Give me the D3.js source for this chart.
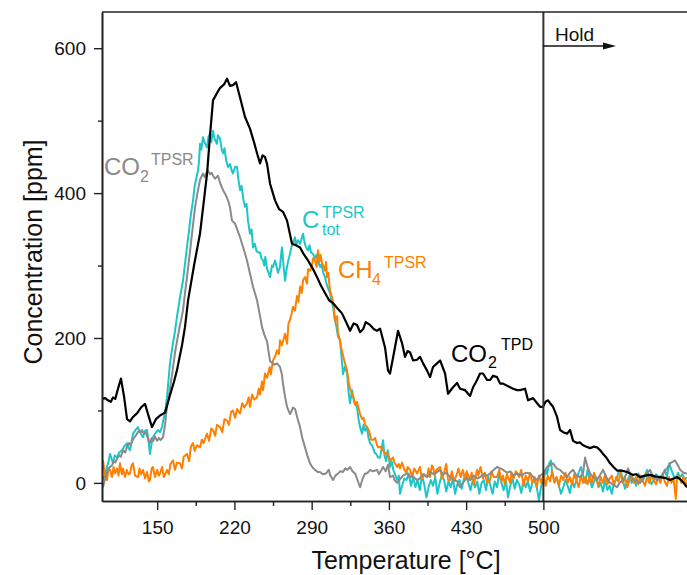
<!DOCTYPE html>
<html><head><meta charset="utf-8">
<script src="https://cdn.jsdelivr.net/npm/d3@7"></script>
<style>body{margin:0;background:#fff;} svg{display:block;font-family:"Liberation Sans",Arial,sans-serif;}</style>
</head><body><svg id="c" width="687" height="575"></svg>
<script>
const xTicks=[150,220,290,360,430,500];
const xMinorTicks=[185,255,325,395,465];
const yTicks=[0,200,400,600];
const yMinorTicks=[100,300,500];
const holdTemp=500;

const co2TPD=[[100,116],[103,117],[105.4,114],[108,112],[110,118],[112,116],[114.5,130],[117.2,144],[119.9,120],[122.7,88],[125.4,85],[128.1,91],[131.7,96],[135.3,104],[139,109],[141.7,95],[145.3,77],[148.9,88],[152.6,93],[157.1,97],[161.6,121],[165.3,140],[168,156],[172.5,190],[175.2,215],[178,252],[183.4,300],[188.8,344],[192,385],[195.2,427],[197.9,480],[200.6,528],[204.2,538],[206.9,545],[210.6,550],[213.3,558],[216,548],[218.7,549],[221.5,553],[225.1,532],[229.6,505],[234.1,489],[237.8,470],[240.5,455],[243.2,441],[245.5,452],[247.7,450],[249.6,440],[252.3,413],[256.8,390],[260.4,378],[264.1,374],[267.7,362],[272.2,330],[275.8,328],[279.5,325],[283.1,315],[286.7,307],[291.3,295],[294.9,284],[298.5,272],[302.1,262],[305.8,252],[309.4,248],[313.9,240],[317.5,234],[321.2,222],[324.8,210],[328,220],[331.1,218],[333.9,208],[336.6,212],[339,222],[342.9,218],[346.5,212],[349.3,210],[352,213],[356.5,187],[359.2,155],[361,151],[363.8,173],[368.3,210],[371.9,193],[374.6,174],[377,182],[379.2,180],[381.9,169],[385.5,170],[388.2,174],[391,165],[394.6,155],[397.3,146],[400,160],[403.6,165],[406.4,169],[410.9,151],[413.6,123],[418.1,132],[421.8,138],[424.5,130],[429,128],[433.6,120],[436.3,132],[439.9,142],[442.6,151],[445.3,151],[449,142],[451.7,142],[454.4,148],[458,146],[460.8,137],[463.5,137],[467.1,134],[469.8,132],[472.5,130],[476.2,128],[478.9,128],[483.4,130],[486.1,114],[490.7,117],[494.3,110],[497,105],[499.7,105],[502,112],[504.3,114],[506.1,110],[508.8,105],[512.4,91],[515.1,73],[518,70],[521.5,68],[524.2,73],[526.9,58],[530.5,55],[533,56],[536,52],[539,50],[542.3,48],[545.5,50],[548.7,49],[551.5,45],[554.1,40],[557,35],[560.5,27],[563.5,22],[566.8,17],[571,17],[575.9,15],[581.3,11],[584,12],[587.6,8],[592,10],[596.7,11],[601,9],[605.8,8],[610,7],[614.8,4],[618,6],[621.2,8],[624,5],[626.6,1],[630.2,-6]];

const co2TPSR=[[100.9,-6],[102.7,5],[104.5,14],[106,20],[107.3,22],[109,24],[110.5,30],[112,28],[113.6,33],[115.5,38],[117,36],[119,45],[121,42],[122.7,50],[124.5,55],[126,52],[128.1,60],[130,64],[131.7,68],[133.5,72],[135.3,70],[136.3,73],[138,68],[139.5,70],[140.8,65],[142.5,58],[143.5,55],[145,62],[146.5,58],[148,64],[150,58],[151.5,62],[153,59],[155.3,63],[157.1,80],[158.9,105],[161.6,130],[164,155],[166.2,180],[168.5,200],[170.7,218],[173.4,238],[175.2,262],[177.5,290],[179.8,320],[182,350],[184.3,380],[186.5,400],[188.8,418],[190.5,424],[191.5,427],[193,422],[194.5,428],[196.1,431],[197.9,426],[199.5,428],[200.6,424],[202.5,420],[205.1,424],[207,414],[209.7,404],[212,398],[214.2,390],[216,380],[217.8,362],[219,360],[220.6,358],[222.5,350],[225.1,339],[228,325],[231.4,307],[234.1,289],[237,270],[240.5,252],[243,232],[245,215],[247,205],[249.6,195],[252.3,168],[254,166],[256,163],[258.6,165],[261.3,160],[263,150],[264,137],[266,118],[267.7,105],[269.5,98],[270.4,95],[272,100],[273,104],[275,102],[277,90],[279.5,77],[281.5,62],[284,49],[286,38],[288.5,27],[290.5,22],[293,18],[295.5,15],[297.6,15],[300,12],[303,13],[305.5,18],[307,10],[309.4,4],[311.5,10],[313.9,13],[316,16],[318.4,15],[320.5,20],[322.5,18],[324.8,22],[327,16],[329.3,13],[331.5,4],[333.9,-6],[336,5],[338.4,13],[340.2,13],[343,18],[345.6,16],[349.3,18],[351,12],[354.7,22],[357,16],[359.2,25],[361,8],[363.8,10],[365,4],[367.4,0],[370,5],[372.8,10],[376.5,13],[379,8],[381,10],[385.5,4],[388,6],[390.5,12],[394.6,8],[398,14],[401,12],[406.4,18],[409,12],[412,14],[415.4,8],[419,4],[422,2],[424.5,-6],[427,0],[430,6],[433.6,4],[437,10],[440,6],[442.6,8],[446,12],[449,10],[451.7,13],[455,18],[458,22],[461,20],[463.5,18],[467,14],[470,16],[473,10],[476.2,13],[480,10],[484,14],[487.9,13],[491,8],[494.3,4],[497,10],[499.7,13],[503.4,22],[508.8,27],[512,20],[515.1,18],[519,12],[521.5,8],[524,14],[526.9,18],[530,10],[533.3,8],[536,14],[537.8,35],[540,22],[542.3,13],[545,8],[548.7,4],[551,10],[554.1,18],[557,8],[560.5,0],[563,-2],[566.8,-6],[569,0],[572.2,4],[575,12],[576.8,20],[579,10],[581.3,4],[585,2],[587.6,0],[590,6],[593,12],[596.7,18],[599,10],[603,4],[606,8],[608.5,13],[612,20],[614.8,27],[619.3,31],[622,24],[623.9,18],[627,14],[630.2,13]];

const cTotTPSR=[[100.9,4],[102.7,12],[104.5,22],[106,30],[107.3,40],[109,32],[110,27],[111.5,38],[113.6,35],[115.5,42],[118.1,45],[120,50],[122.7,55],[124,48],[125.4,45],[127,58],[128.1,68],[130,72],[132.6,77],[134.4,70],[137.2,63],[139,72],[140.8,73],[142,60],[143.5,40],[145,55],[146.2,63],[148,68],[150.8,73],[152.6,70],[154.4,77],[155.3,85],[157.1,96],[159,120],[161.6,165],[163.5,185],[166.2,210],[168,230],[170.7,256],[173.4,279],[175,300],[177,325],[179,350],[180.5,370],[182.5,390],[184,410],[186,425],[187,431],[188,445],[188.8,468],[190,460],[191.5,477],[193,470],[195.2,463],[196.5,478],[197.9,482],[199,470],[200.6,486],[202,475],[204.2,468],[205,480],[207,475],[208.5,460],[209.7,455],[211,462],[212.5,445],[214.2,436],[216,440],[217.8,430],[218.7,427],[220.6,436],[222.4,436],[223.5,420],[225.1,404],[226.5,410],[228,392],[229.6,381],[231,385],[232.3,362],[234.1,344],[235.5,350],[236.9,325],[238.5,330],[240,320],[241.5,318],[243.2,318],[244.5,310],[245.9,307],[247,300],[248,312],[249.6,295],[251,290],[252.3,284],[254,300],[255,298],[256.8,307],[258,300],[259.4,290],[261.3,298],[262.5,318],[263.2,325],[264.5,300],[265.9,279],[267,292],[268.5,305],[270.4,316],[271.5,325],[273,330],[274.9,339],[276,328],[277.5,335],[279.5,330],[281,338],[282.2,344],[283.5,332],[285,325],[286.7,321],[288,328],[289.5,318],[291.3,316],[293,310],[294.5,315],[296,305],[297.6,298],[299,302],[300.5,290],[302.1,284],[303.5,275],[305,268],[306.7,262],[308,250],[309.4,243],[311,225],[312.5,215],[313.9,202],[315.7,197],[317,175],[318.4,150],[320,160],[322.1,151],[323.5,125],[324.8,110],[326.6,128],[328,115],[329.5,108],[331.1,105],[332.5,88],[333.9,77],[335.7,68],[337,80],[338.5,72],[340.2,77],[341.5,62],[342.9,55],[344.5,52],[345.6,49],[347,42],[348.5,40],[350.2,35],[352,35],[353.5,48],[354.7,59],[356,38],[357.5,30],[359,45],[361,22],[362.5,30],[364,18],[365.5,12],[367.4,4],[369,10],[370,-15],[372,-4],[374,6],[376,4],[378,13],[380,-4],[382,8],[384,-6],[386,4],[388,-10],[390,10],[392,-2],[394,-20],[396,-6],[398,4],[400,-4],[402,8],[404,-15],[406,0],[408,10],[410,4],[412,-12],[414,2],[416,-6],[418,6],[420,-15],[422,-2],[424,4],[426,-8],[428,6],[430,13],[432,0],[434,-10],[436,4],[438,-6],[440,2],[442,-15],[444,0],[446,4],[448,-10],[450,8],[452,-4],[454,-15],[456,2],[458,-6],[460,13],[462,0],[464,-10],[466,4],[468,-20],[470,-4],[472,6],[474,-8],[476,4],[478,-2],[480,-14],[482,4],[484,-6],[486,2],[488,-12],[490,0],[492,4],[494,-6],[496,-24],[498,-4],[500,2],[502,18],[503.4,12],[505,26],[506.8,31],[508,14],[510,2],[512,8],[514,-4],[516,-15],[518,-6],[520,4],[522,-4],[524,-14],[526,2],[528,-6],[530,4],[532,14],[534,22],[536,10],[538,0],[540,18],[542,4],[544,-6],[546,2],[548,8],[550,-6],[552,0],[554,-12],[556,4],[558,-10],[560,-4],[562,-15],[564,0],[566,4],[568,14],[570,18],[572,4],[574,-8],[576,2],[578,10],[580,0],[582,6],[584,-4],[586,13],[588,6],[590,2],[592,10],[594,18],[596,6],[598,-2],[600,4],[602,12],[604,8],[606,4],[608,10],[610,18],[612,8],[614,27],[616,18],[618,10],[620,6],[622,14],[624,8],[626,12],[628,4],[630,8]];

const ch4TPSR=[[100.9,31],[102.7,10],[104.5,4],[106,20],[107.3,18],[109,8],[110.5,22],[111.8,13],[113.6,20],[115,10],[116.3,27],[118,12],[119,20],[120.8,8],[122.5,18],[124,12],[125.4,13],[127,25],[128.1,27],[130,10],[132.6,8],[134,20],[135.5,12],[137.2,18],[139,6],[140.8,15],[142.5,2],[143.5,4],[145,20],[146.2,22],[148,8],[150,18],[151.5,10],[152.6,13],[154.4,22],[156,8],[158.9,18],[160.5,12],[162,26],[164.4,31],[166,18],[168,28],[170.7,27],[172.5,20],[174,36],[177,40],[179,30],[180.5,50],[182.5,55],[184,44],[186,52],[188.8,49],[190.5,60],[192,55],[195.2,68],[197,58],[199,75],[200.6,73],[202.5,65],[204.2,80],[207,77],[209,70],[211,88],[213.3,86],[215,80],[217,98],[218.7,100],[220.6,90],[222.4,102],[225.1,96],[227,110],[229,104],[231.4,110],[233,118],[234.1,105],[236,122],[238,115],[240.5,118],[242,130],[243.2,122],[245,140],[246,128],[247.7,151],[249.6,145],[252,160],[253,150],[255,169],[257,175],[258.6,183],[260.4,178],[261.3,197],[263,190],[265.9,206],[267.7,192],[269,220],[270.4,225],[272,235],[273.1,243],[274.9,238],[276.7,258],[278,250],[279.5,271],[281,262],[282.2,280],[284,284],[285.8,275],[286.7,295],[288.5,293],[290.3,300],[291.3,310],[293.1,307],[294.5,298],[295.8,321],[297,305],[298,315],[299.4,303],[300.5,300],[302.1,293],[303,305],[303.9,284],[305,290],[306.7,265],[308.5,256],[310,245],[311.2,224],[313,230],[313.9,206],[315.7,197],[317,185],[318.4,176],[320,166],[322.1,155],[323.5,140],[324.8,130],[326.6,123],[328,118],[329.3,108],[331,112],[333.9,95],[335.7,88],[337,90],[338.4,80],[340.2,77],[342,72],[343.8,60],[345.6,59],[347.5,62],[349.3,52],[350.2,49],[352,50],[354.7,45],[356.5,40],[358.3,42],[360,36],[361,31],[363.8,35],[365,28],[367.4,22],[369,26],[370.1,20],[372,28],[374,18],[376,14],[377,22],[379.2,18],[381,8],[383,20],[385.5,13],[387,18],[388.2,22],[390,6],[392,12],[394.6,8],[396,20],[397.3,8],[399,24],[400,22],[401.5,10],[403,18],[406.4,22],[408,6],[410,14],[412,26],[413.6,4],[415.4,4],[417,16],[419,2],[421.8,13],[423,20],[425,8],[427,18],[429,4],[430.5,16],[433.6,4],[435,14],[437,-2],[439.9,18],[441,10],[443,22],[445.3,6],[447,14],[449,0],[451.7,4],[453,16],[455,8],[458,8],[460,18],[462,2],[463.5,10],[465,-2],[467,12],[469.8,0],[471,14],[473,6],[475,16],[478,8],[480,18],[482,-4],[484,10],[486,2],[488,14],[490,0],[492,8],[494,-6],[496,10],[498,0],[500,12],[502,-4],[504,10],[506,2],[508,16],[510,0],[512,8],[514,-4],[516,10],[518,4],[520,14],[522,0],[524,8],[526,-2],[528,12],[530,4],[532,-6],[534,10],[536,0],[538,8],[540,-2],[542,10],[544,0],[546,14],[548,4],[550,-4],[552,8],[554,0],[556,12],[558,-2],[560,6],[562,10],[564,-4],[566,8],[568,2],[570,14],[572,0],[574,8],[576,-6],[578,4],[580,12],[582,0],[584,8],[586,-2],[588,10],[590,4],[592,-4],[594,8],[596,0],[598,10],[600,4],[602,-2],[604,8],[606,0],[608,12],[610,2],[612,-4],[614,8],[616,0],[618,6],[620,-22],[621,4],[623,10],[625,0],[627,8],[629,-4],[631,6],[633,0]];

const svg=d3.select("#c");
const x=d3.scaleLinear().domain([100,651]).range([102,710]);
const y=d3.scaleLinear().domain([-25,650]).range([501,12]);

svg.append("defs").append("clipPath").attr("id","clip")
  .append("rect").attr("x",102).attr("y",12).attr("width",608).attr("height",489);

const line=d3.line().x(d=>x(d[0])).y(d=>y(d[1]));
const plot=svg.append("g").attr("clip-path","url(#clip)");
const series=[
  {data:cTotTPSR,color:"#1cc6c8",w:2},
  {data:ch4TPSR,color:"#ff8000",w:2},
  {data:co2TPSR,color:"#8a8a8a",w:2},
  {data:co2TPD,color:"#000000",w:2.2}
];
series.forEach(s=>{
  plot.append("path").datum(s.data).attr("d",line)
    .attr("fill","none").attr("stroke",s.color).attr("stroke-width",s.w)
    .attr("stroke-linejoin","round");
});

// hold line
svg.append("line").attr("x1",x(holdTemp)).attr("x2",x(holdTemp)).attr("y1",y(650)).attr("y2",y(-25))
  .attr("stroke","#333").attr("stroke-width",2);

// axes
const axColor="#222";
const yAxis=svg.append("g").attr("transform","translate(102,0)")
  .call(d3.axisLeft(y).tickValues(yTicks).tickSize(8).tickSizeOuter(0).tickPadding(8));
svg.append("g").attr("transform","translate(102,0)")
  .call(d3.axisLeft(y).tickValues(yMinorTicks).tickSize(4).tickSizeOuter(0).tickFormat(""));
const xAxis=svg.append("g").attr("transform","translate(0,501)")
  .call(d3.axisBottom(x).tickValues(xTicks).tickSize(9).tickSizeOuter(0));
svg.append("g").attr("transform","translate(0,501)")
  .call(d3.axisBottom(x).tickValues(xMinorTicks).tickSize(5).tickSizeOuter(0).tickFormat(""));
svg.selectAll(".domain").attr("stroke",axColor).attr("stroke-width",1.6);
svg.selectAll(".tick line").attr("stroke",axColor).attr("stroke-width",1.4);
svg.selectAll(".tick text").attr("fill","#111").style("font-size","19px").style("font-family","'Liberation Sans',Arial,sans-serif");
yAxis.selectAll("text").attr("dy","0.35em");
xAxis.selectAll("text").attr("dy",null).attr("y",33);
// top border
svg.append("line").attr("x1",102).attr("x2",710).attr("y1",12).attr("y2",12)
  .attr("stroke",axColor).attr("stroke-width",1.6);

// axis titles
svg.append("text").attr("transform","translate(42,252) rotate(-90)").attr("text-anchor","middle")
  .style("font-size","25px").attr("fill","#111").text("Concentration [ppm]");
svg.append("text").attr("x",406).attr("y",569).attr("text-anchor","middle")
  .style("font-size","25px").attr("fill","#111").text("Temperature [°C]");

// Hold annotation
svg.append("text").attr("x",555).attr("y",41).style("font-size","19px").attr("fill","#111").text("Hold");
svg.append("line").attr("x1",x(holdTemp)).attr("x2",605).attr("y1",46).attr("y2",46).attr("stroke","#111").attr("stroke-width",1.3);
svg.append("path").attr("d","M603,42.5 L616,46 L603,49.5 Z").attr("fill","#111");

// series labels
function label(parts,color){
  const t=svg.append("text").attr("fill",color);
  parts.forEach(p=>{
    t.append("tspan").attr("x",p[1]).attr("y",p[2]).style("font-size",p[3]+"px").text(p[0]);
  });
}
label([["CO",104,175,24],["2",140,182,16],["TPSR",151,165,16]],"#8a8a8a");
label([["C",302,228,24],["TPSR",322,218,16],["tot",322,235,16]],"#1cc6c8");
label([["CH",338,278,24],["4",372,285,16],["TPSR",384,268,16]],"#ff8000");
label([["CO",451,362,24],["2",488,368,16],["TPD",501,350,16]],"#000");
</script></body></html>
